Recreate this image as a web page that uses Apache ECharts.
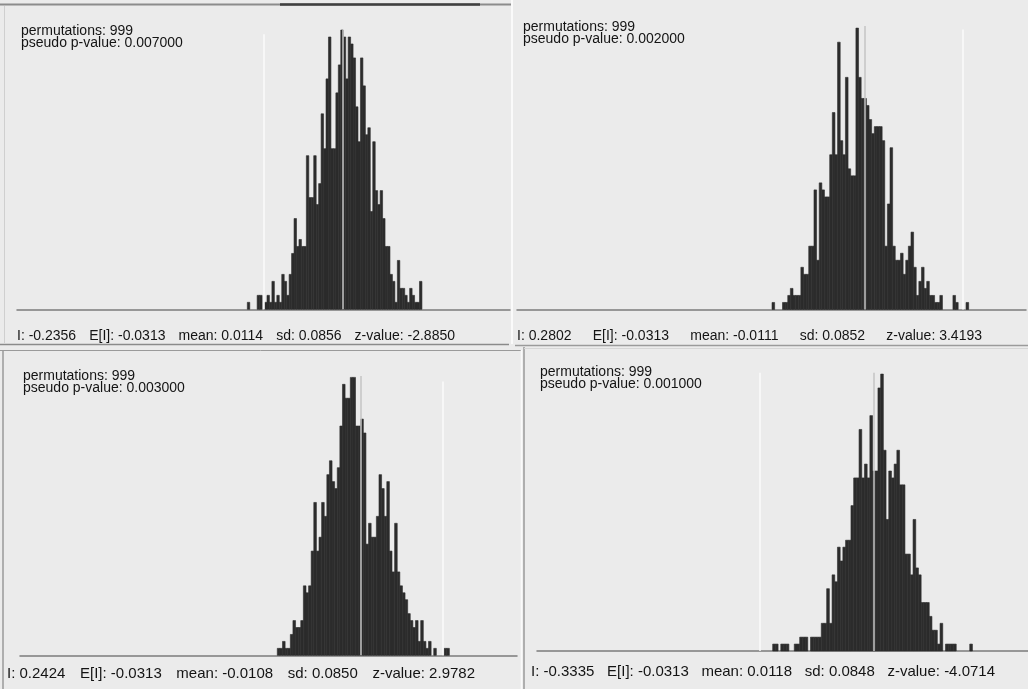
<!DOCTYPE html>
<html>
<head>
<meta charset="utf-8">
<script src="https://cdn.jsdelivr.net/npm/echarts@6/dist/echarts.min.js"></script>
<style>
html,body{margin:0;padding:0;background:#ebebeb;}
#chart{width:1028px;height:689px;}
</style>
</head>
<body>
<div id="chart"></div>
<script>
// ---------------- data ----------------
const permutations = 999;
const observedI = [-0.2356, 0.2802, 0.2424, -0.3335];
const expectedI = [-0.0313, -0.0313, -0.0313, -0.0313];
const meanI = [0.0114, -0.0111, -0.0108, 0.0118];
const sdI = [0.0856, 0.0852, 0.0850, 0.0848];
const zValue = [-2.8850, 3.4193, 2.9782, -4.0714];
const pseudoP = [0.007, 0.002, 0.003, 0.001];
const binStart = [-0.288, -0.2895, -0.2683, -0.2952];
const binWidth = [0.00772, 0.00785, 0.00805, 0.00818];

const countsA = [1,0,0,0,2,2,0,1,2,1,4,1,2,1,5,4,2,5,8,13,9,10,9,9,22,16,16,22,15,18,28,23,33,39,23,23,31,35,40,39,33,39,38,36,29,24,36,32,25,26,14,24,17,15,17,13,9,9,5,4,1,7,3,3,2,1,3,2,1,1,4];
const countsB = [1,0,0,0,1,1,2,3,2,2,2,6,5,5,9,9,17,7,18,17,16,16,22,28,22,38,24,22,33,20,19,19,40,33,30,30,29,27,25,26,26,26,24,9,15,23,9,7,7,8,5,7,9,11,6,2,4,6,3,4,2,2,1,1,2,0,0,0,0,2,1,0,0,0,1];
const countsC = [1,1,2,1,1,3,5,4,4,5,10,9,10,15,22,15,17,22,20,26,28,25,24,27,33,39,37,37,40,40,33,33,34,32,16,19,17,17,20,26,24,20,25,15,12,19,12,10,9,8,6,5,4,5,2,5,2,1,2,0,1,0,0,0,1,1];
const countsD = [1,1,0,1,1,1,0,0,1,1,2,2,2,0,2,2,2,2,4,4,9,4,11,10,15,13,15,16,16,21,25,25,32,25,27,25,34,26,26,38,40,29,19,26,25,27,29,24,24,14,14,11,19,12,11,7,7,7,5,3,3,1,4,0,1,1,1,1,0,0,0,0,0,1];
const allCounts = [countsA, countsB, countsC, countsD];

// ---------------- layout (not data) ----------------
const panels = [
  {left:17,  top:30,    width:493, height:279.3, xmin:-1.0109, xmax:0.5365, ymax:40.0, obsTop:39.4, meanTop:40.0,
   head:{x:21, y:32}, stat:{x:17, y:336.5, w:438, fs:14}},
  {left:517, top:26,    width:509, height:283.5, xmin:-1.0530, xmax:0.4709, ymax:40.3, obsTop:39.8, meanTop:40.3,
   head:{x:523, y:28}, stat:{x:517, y:336, w:465, fs:14}},
  {left:20,  top:376,   width:497, height:279.3, xmin:-1.0627, xmax:0.4718, ymax:40.2, obsTop:39.4, meanTop:40.2,
   head:{x:23, y:377}, stat:{x:7, y:674, w:468, fs:15}},
  {left:537, top:372.7, width:491, height:278.3, xmin:-1.0094, xmax:0.4785, ymax:40.2, obsTop:40.2, meanTop:40.2,
   head:{x:540, y:373}, stat:{x:531, y:672, w:464, fs:15}}
];

const FONT = '"Liberation Sans", Arial, Helvetica, sans-serif';
const chart = echarts.init(document.getElementById('chart'), null, {renderer:'canvas'});
const measure = document.createElement('canvas').getContext('2d');

const grids = [], xAxes = [], yAxes = [], series = [], texts = [];
panels.forEach((p, k) => {
  grids.push({left:p.left, top:p.top, width:p.width, height:p.height, containLabel:false});
  xAxes.push({type:'value', gridIndex:k, min:p.xmin, max:p.xmax,
    axisLine:{show:true, onZero:false, lineStyle:{color:'#7c7c7c', width:1.5}},
    axisTick:{show:false}, axisLabel:{show:false}, splitLine:{show:false}});
  yAxes.push({type:'value', gridIndex:k, min:0, max:p.ymax,
    axisLine:{show:false}, axisTick:{show:false}, axisLabel:{show:false}, splitLine:{show:false}});
  const start = binStart[k], w = binWidth[k];
  series.push({
    type:'custom', xAxisIndex:k, yAxisIndex:k, silent:true, animation:false,
    data: allCounts[k].map((c, i) => [i, c]),
    renderItem: function(params, api){
      const i = api.value(0), c = api.value(1);
      if (!c) return null;
      const x0 = start + i * w, x1 = x0 + w;
      const a = api.coord([x0, 0]), b = api.coord([x1, c]);
      return {type:'rect', shape:{x:a[0], y:b[1], width:b[0]-a[0], height:a[1]-b[1]},
        style:{fill:'#2c2c2c', stroke:'#2c2c2c', lineWidth:0.6}};
    },
    markLine:{
      silent:true, symbol:'none', animation:false, z:10,
      label:{show:false},
      data:[
        [{coord:[observedI[k], 0], lineStyle:{color:'#fbfbfb', width:1.5, type:'solid'}},
         {coord:[observedI[k], p.obsTop]}],
        [{coord:[meanI[k], 0], lineStyle:{color:'#c4c4c4', width:1.5, type:'solid'}},
         {coord:[meanI[k], p.meanTop]}]
      ]
    }
  });
  texts.push({type:'text', left:p.head.x, top:p.head.y - 8, silent:true,
    style:{text:'permutations: ' + permutations + '\npseudo p-value: ' + pseudoP[k].toFixed(6),
      font:'14px ' + FONT, fill:'#141414', lineHeight:12.5}});
  // stats line: items spread evenly across the measured span
  const items = ['I: ' + observedI[k].toFixed(4), 'E[I]: ' + expectedI[k].toFixed(4),
    'mean: ' + meanI[k].toFixed(4), 'sd: ' + sdI[k].toFixed(4), 'z-value: ' + zValue[k].toFixed(4)];
  measure.font = p.stat.fs + 'px ' + FONT;
  const widths = items.map(s => measure.measureText(s).width);
  const total = widths.reduce((a, b) => a + b, 0);
  const gap = Math.max(6, (p.stat.w - total) / (items.length - 1));
  let x = p.stat.x;
  items.forEach((s, j) => {
    texts.push({type:'text', x:x, y:p.stat.y, silent:true,
      style:{text:s, font:p.stat.fs + 'px ' + FONT, fill:'#141414', textVerticalAlign:'middle'}});
    x += widths[j] + gap;
  });
});

// frame lines (decoration)
const L = (x1,y1,x2,y2,c,w) => ({type:'line', silent:true, shape:{x1,y1,x2,y2}, style:{stroke:c, lineWidth:w}});
const frames = [
  L(0,4.5,512,4.5,'#8c8c8c',2),
  L(280,4.5,480,4.5,'#404040',2.5),
  L(4.5,6,4.5,343,'#cfcfcf',1),
  L(512,0,512,344,'#fafafa',2),
  L(0,344.5,509,344.5,'#8a8a8a',1.5),
  L(515,345.5,1028,345.5,'#9a9a9a',1.5),
  L(0,350.5,521,350.5,'#9a9a9a',1),
  L(3,350,3,689,'#9a9a9a',1.5),
  L(521.5,350,521.5,689,'#fafafa',1.5),
  L(524,347,524,689,'#9a9a9a',1.5),
  L(524,348.5,1028,348.5,'#d6d6d6',1)
];

chart.setOption({
  backgroundColor:'#ebebeb',
  animation:false,
  grid:grids, xAxis:xAxes, yAxis:yAxes, series:series,
  graphic:frames.concat(texts)
});
</script>
</body>
</html>
